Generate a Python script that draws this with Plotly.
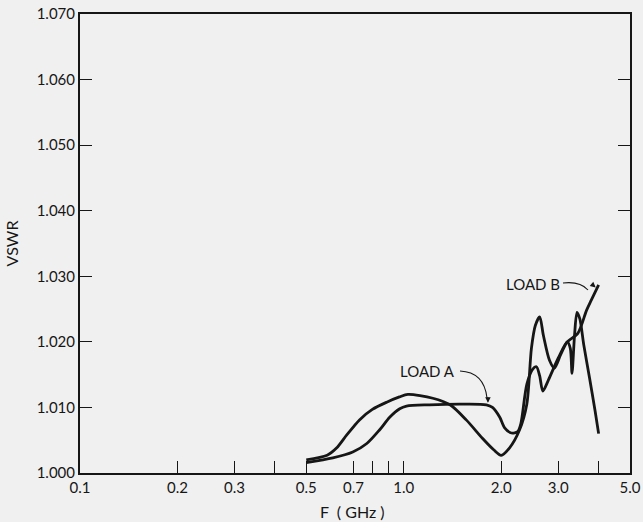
import plotly.graph_objects as go
import math

# ---- data ----
load_a_f = [0.50, 0.604, 0.696, 0.769, 0.843, 0.905, 0.972, 1.02, 1.2, 1.5, 1.8, 1.88, 1.98, 2.05, 2.15,
            2.25, 2.30, 2.40, 2.50, 2.57, 2.63, 2.69, 2.80, 3.00, 3.20, 3.27, 3.31, 3.37, 3.43, 3.50,
            3.60, 3.75, 3.90, 4.00]
load_a_vswr = [1.0016, 1.0023, 1.0032, 1.0045, 1.0066, 1.0085, 1.0098, 1.0102, 1.0104, 1.0105, 1.0104, 1.0100,
               1.0085, 1.0069, 1.0061, 1.0063, 1.0075, 1.0135, 1.0158, 1.0162, 1.0148, 1.0125, 1.0142, 1.0175,
               1.0200, 1.0190, 1.0152, 1.0210, 1.0245, 1.0235, 1.0195, 1.0145, 1.0095, 1.0060]

load_b_f = [0.50, 0.58, 0.62, 0.667, 0.73, 0.80, 0.886, 0.97, 1.03, 1.23, 1.39, 1.56, 1.75, 1.90, 2.00,
            2.12, 2.28, 2.40, 2.48, 2.55, 2.63, 2.70, 2.82, 2.92, 3.05, 3.20, 3.45, 3.67, 3.80, 4.00]
load_b_vswr = [1.0020, 1.0027, 1.0038, 1.0058, 1.0081, 1.0097, 1.0108, 1.0116, 1.0120, 1.0114, 1.0104, 1.0081,
               1.0053, 1.0035, 1.0027, 1.0038, 1.0066, 1.0105, 1.0190, 1.0225, 1.0238, 1.0210, 1.0172, 1.0160,
               1.0180, 1.0200, 1.0213, 1.0248, 1.0264, 1.0287]

x_tick_vals = [0.1, 0.2, 0.3, 0.5, 0.7, 1.0, 2.0, 3.0, 5.0]
x_tick_text = ["0.1", "0.2", "0.3", "0.5", "0.7", "1.0", "2.0", "3.0", "5.0"]
x_minor_vals = [0.4, 0.8, 0.9, 4.0]
y_tick_vals = [1.000, 1.010, 1.020, 1.030, 1.040, 1.050, 1.060, 1.070]
y_tick_text = ["1.000", "1.010", "1.020", "1.030", "1.040", "1.050", "1.060", "1.070"]

INK = "#161616"
BG = "#f0f0f0"
FONT = "Lato, 'DejaVu Sans', sans-serif"

fig = go.Figure()
for fx, vy, nm in [(load_a_f, load_a_vswr, "LOAD A"), (load_b_f, load_b_vswr, "LOAD B")]:
    fig.add_trace(go.Scatter(x=fx, y=vy, mode="lines", name=nm,
                             line=dict(color=INK, width=2.8, shape="spline", smoothing=0.8),
                             showlegend=False, hoverinfo="x+y+name"))

W, H = 643, 522
ML, MR, MT, MB = 80, 13, 14, 49
PW, PH = W - ML - MR, H - MT - MB

def px(x):
    return (x - ML) / PW

def py(y):
    return (H - MB - y) / PH

# curved leader lines (paper coordinates)
shapes = [
    dict(type="path", xref="paper", yref="paper",
         path=f"M {px(460)},{py(371)} Q {px(484)},{py(372)} {px(487)},{py(398)}",
         line=dict(color=INK, width=1.1)),
    dict(type="path", xref="paper", yref="paper",
         path=f"M {px(563)},{py(283)} Q {px(580)},{py(281)} {px(588)},{py(290)}",
         line=dict(color=INK, width=1.1)),
]

annotations = [
    dict(text="LOAD A", xref="paper", yref="paper", x=px(427), y=py(371), showarrow=False,
         font=dict(family=FONT, size=15, color=INK), xanchor="center", yanchor="middle"),
    dict(text="LOAD B", xref="paper", yref="paper", x=px(533), y=py(284), showarrow=False,
         font=dict(family=FONT, size=15, color=INK), xanchor="center", yanchor="middle"),
    dict(text="", x=math.log10(1.82), y=1.0104, xref="x", yref="y", showarrow=True,
         ax=0, ay=-9, arrowhead=2, arrowsize=1, arrowwidth=1.1, arrowcolor=INK, standoff=2),
    dict(text="", x=math.log10(3.94), y=1.0282, xref="x", yref="y", showarrow=True,
         ax=-6, ay=-5, arrowhead=2, arrowsize=1, arrowwidth=1.1, arrowcolor=INK, standoff=1),
    dict(text="F  ( GHz )", xref="paper", yref="paper", x=px(352), y=py(511), showarrow=False,
         font=dict(family=FONT, size=16, color=INK), xanchor="center", yanchor="middle"),
]

fig.update_layout(
    width=W, height=H,
    margin=dict(l=ML, r=MR, t=MT, b=MB, pad=0, autoexpand=False),
    paper_bgcolor=BG, plot_bgcolor=BG,
    font=dict(family=FONT, size=15, color=INK),
    shapes=shapes, annotations=annotations,
    xaxis=dict(type="log", range=[math.log10(0.1), math.log10(5.0)],
               tickmode="array", tickvals=x_tick_vals, ticktext=x_tick_text,
               ticks="inside", ticklen=12, tickwidth=1, tickcolor=INK,
               minor=dict(tickmode="array", tickvals=x_minor_vals, ticks="inside",
                          ticklen=12, tickwidth=1, tickcolor=INK, showgrid=False),
               showline=True, linecolor=INK, linewidth=2, mirror=True,
               showgrid=False, zeroline=False, automargin=False,
               tickfont=dict(family=FONT, size=15, color=INK)),
    yaxis=dict(range=[1.000, 1.070],
               tickmode="array", tickvals=y_tick_vals, ticktext=y_tick_text,
               ticks="inside", ticklen=12, tickwidth=1, tickcolor=INK,
               showline=True, linecolor=INK, linewidth=2, mirror="ticks",
               showgrid=False, zeroline=False, automargin=False,
               tickfont=dict(family=FONT, size=15, color=INK),
               title=dict(text="VSWR", font=dict(family=FONT, size=16, color=INK), standoff=14)),
)

fig.write_html("out.html",
               config={"displayModeBar": False},
               post_script="document.body.style.margin='0';document.body.style.overflow='hidden';"
                           "document.body.style.background='#f0f0f0';")
